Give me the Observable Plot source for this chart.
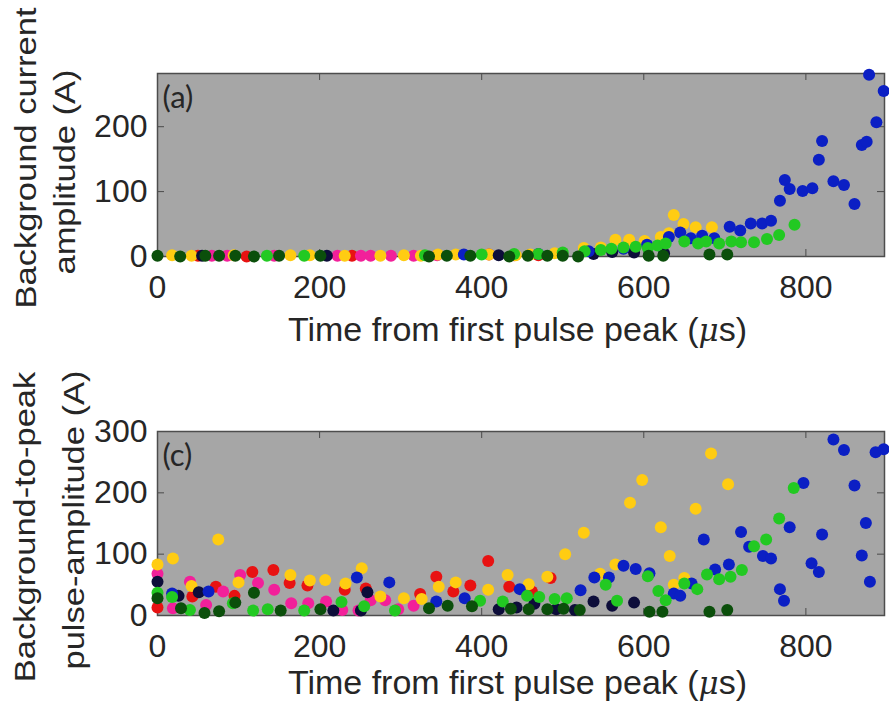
<!DOCTYPE html>
<html>
<head>
<meta charset="utf-8">
<script src="https://cdn.jsdelivr.net/npm/d3@7"></script>
<script src="https://cdn.jsdelivr.net/npm/@observablehq/plot@0.6"></script>
<style>
  html, body { margin: 0; padding: 0; background: #fff; }
  #wrap { position: relative; width: 889px; height: 711px; overflow: hidden; }
  #wrap svg.plotsvg { display: block; }
  #overlay { position: absolute; left: 0; top: 0; pointer-events: none; }
</style>
</head>
<body>
<div id="wrap"></div>
<script>
// ---------- data (time in µs, amplitude in A) ----------
const seriesNames = ["S1", "S2", "S3", "S4", "S5", "S6", "S7"];
const seriesColors = ["#e81212", "#f2209a", "#ffcc12", "#0d0d3a", "#0b1fc4", "#22c922", "#0b4f0b"];
const xTicks = [0, 200, 400, 600, 800];
const yTicksA = [0, 100, 200];
const yTicksC = [0, 100, 200, 300];
const xLabel = "Time from first pulse peak (";
const yLabelA = ["Background current", "amplitude (A)"];
const yLabelC = ["Background-to-peak", "pulse-amplitude (A)"];

// panel (a): background current amplitude  (S1 red, S2 magenta, S3 yellow, S4 navy, S5 blue, S6 green, S7 dark green)
const aRed = [[50,1],[110,0],[240,1],[409,3],[440,2],[470,2]];
const aMagenta = [[67,1],[86,1],[144,1],[222,1],[251,1],[263,1],[288,1],[316,1],[345,2]];
const aYellow = [[18,2],[42,1],[94,2],[164,2],[188,2],[231,1],[275,1],[304,2],[325,1],[346,3],[368,3],[409,3],[442,2],[460,3],[490,5],[526,13],[547,14],[565,26],[582,26],[601,24],[621,30],[631,36],[637,64],[649,50],[664,45],[684,45]];
const aNavy = [[55,1],[209,1],[421,2],[538,4],[561,7],[588,6],[625,5]];
const aBlue = [[378,3],[470,4],[532,8],[575,12],[604,18],[631,30],[645,37],[658,28],[672,32],[687,28],[706,46],[719,40],[732,51],[746,51],[757,55],[768,86],[774,118],[780,104],[796,101],[808,105],[816,149],[820,178],[834,116],[847,110],[860,81],[869,172],[875,177],[878,280],[887,207],[896,255]];
const aGreen = [[135,1],[181,1],[330,2],[400,3],[440,4],[470,4],[500,6],[527,8],[547,10],[560,12],[575,14],[590,15],[605,13],[617,17],[627,20],[650,23],[667,20],[677,23],[693,20],[708,23],[720,22],[736,22],[752,27],[767,33],[786,49]];
const aDarkgreen = [[0,1],[28,0],[59,1],[76,1],[96,1],[119,0],[150,1],[201,1],[335,0],[357,1],[386,1],[434,0],[457,1],[481,1],[500,1],[519,0],[606,1],[624,1],[681,3],[703,3]];

// panel (c): background-to-peak pulse amplitude
const cRed = [[0,13],[43,31],[72,47],[95,32],[117,71],[143,74],[163,53],[185,49],[231,42],[257,44],[324,35],[344,63],[365,39],[386,49],[408,89],[434,47],[462,39],[485,61]];
const cMagenta = [[0,68],[19,12],[40,55],[60,17],[81,39],[102,66],[124,53],[144,42],[165,20],[186,20],[208,23],[228,9],[248,8],[263,25],[281,25],[297,10],[316,16]];
const cYellow = [[0,83],[19,93],[42,48],[75,124],[100,54],[164,66],[188,57],[207,58],[232,52],[252,77],[275,31],[304,28],[326,27],[347,47],[368,54],[408,42],[432,66],[458,51],[481,63],[503,100],[526,135],[546,68],[565,83],[583,184],[598,221],[621,144],[632,97],[637,50],[650,61],[664,174],[683,264],[704,214]];
const cNavy = [[0,55],[26,32],[51,38],[217,8],[251,8],[259,38],[421,10],[443,13],[465,19],[492,10],[515,9],[538,23],[561,16],[588,21]];
const cBlue = [[18,36],[63,39],[246,62],[286,54],[344,23],[379,28],[447,43],[522,41],[539,62],[557,62],[575,81],[590,76],[607,69],[637,36],[645,32],[659,52],[674,124],[688,75],[705,83],[720,136],[730,112],[747,97],[757,93],[768,43],[773,24],[780,144],[797,216],[807,85],[816,71],[820,132],[834,287],[847,270],[860,212],[869,98],[874,151],[879,55],[886,266],[896,271]];
const cGreen = [[0,37],[18,30],[40,9],[93,20],[118,8],[136,10],[181,8],[227,22],[255,15],[293,8],[398,24],[426,23],[456,32],[471,30],[490,27],[505,28],[553,50],[567,24],[605,64],[618,40],[627,25],[650,52],[666,43],[678,67],[693,59],[707,63],[721,74],[736,113],[751,124],[767,158],[785,208]];
const cDarkgreen = [[0,28],[29,12],[58,4],[76,7],[96,21],[119,37],[152,8],[201,10],[335,12],[358,16],[388,15],[436,11],[458,10],[481,10],[501,11],[521,9],[607,6],[623,6],[681,6],[703,9]];

// ---------- build ----------
const toRows = (groups) => groups.flatMap(([name, arr]) => arr.map(([x, y]) => ({series: name, x, y})));
const rowsA = toRows([["S1", aRed], ["S2", aMagenta], ["S3", aYellow], ["S4", aNavy], ["S5", aBlue], ["S6", aGreen], ["S7", aDarkgreen]]);
const rowsC = toRows([["S1", cRed], ["S2", cMagenta], ["S3", cYellow], ["S4", cNavy], ["S5", cBlue], ["S6", cGreen], ["S7", cDarkgreen]]);

const W = 889, ML = 157, MR = 5;
const innerW = W - ML - MR;
const TXT = "#262626";
const FONT = "Liberation Sans, Arial, Helvetica, sans-serif";

function panel({rows, yDomain, yTicks, height, mt, mb, tag}) {
  const innerH = height - mt - mb;
  return Plot.plot({
    width: W, height,
    marginLeft: ML, marginRight: MR, marginTop: mt, marginBottom: mb,
    style: {fontFamily: FONT, color: TXT, background: "transparent", overflow: "visible"},
    x: {domain: [0, 897]},
    y: {domain: yDomain},
    color: {type: "ordinal", domain: seriesNames, range: seriesColors},
    marks: [
      Plot.frame({fill: "#a6a6a6", stroke: null}),
      Plot.tickX(xTicks, {x: d => d, insetTop: innerH - 7, stroke: "#4a4a4a"}),
      Plot.tickX(xTicks, {x: d => d, insetBottom: innerH - 7, stroke: "#4a4a4a"}),
      Plot.tickY(yTicks, {y: d => d, insetRight: innerW - 7, stroke: "#4a4a4a"}),
      Plot.tickY(yTicks, {y: d => d, insetLeft: innerW - 7, stroke: "#4a4a4a"}),
      Plot.frame({stroke: "#4d4d4d", strokeWidth: 1.5}),
      Plot.axisX({ticks: xTicks, tickSize: 0, tickPadding: 19, fontSize: 32, label: null, fill: TXT}),
      Plot.axisY({ticks: yTicks, tickSize: 0, tickPadding: 10, fontSize: 32, label: null, fill: TXT}),
      Plot.dot(rows, {x: "x", y: "y", fill: "series", r: 6, stroke: null}),
      Plot.text([tag], {frameAnchor: "top-left", dx: 5, dy: 12, lineAnchor: "top", fontSize: 31, fontFamily: "Lato, 'Open Sans', sans-serif", fill: TXT})
    ]
  });
}

const wrap = document.getElementById("wrap");
const pA = panel({rows: rowsA, yDomain: [0, 282], yTicks: yTicksA, height: 345, mt: 73, mb: 89, tag: "(a)"});
const pC = panel({rows: rowsC, yDomain: [0, 300], yTicks: yTicksC, height: 366, mt: 86, mb: 96, tag: "(c)"});
pA.classList.add("plotsvg"); pC.classList.add("plotsvg");
wrap.appendChild(pA);
wrap.appendChild(pC);

// ---------- labels overlay ----------
const ov = d3.select(wrap).append("svg").attr("id", "overlay").attr("width", W).attr("height", 711)
  .style("font-family", FONT).style("fill", TXT);

function xlab(y) {
  const t = ov.append("text").attr("x", ML + innerW / 2 - 3).attr("y", y)
    .attr("text-anchor", "middle").attr("font-size", 34);
  t.append("tspan").text(xLabel);
  t.append("tspan").attr("font-style", "italic").attr("font-family", "DejaVu Serif, serif").attr("font-size", 31).text("μ");
  t.append("tspan").text("s)");
}
xlab(341);
xlab(694);

function ylab(lines, xs, cys) {
  lines.forEach((s, i) => {
    ov.append("text")
      .attr("transform", `translate(${xs[i]},${cys[i]}) rotate(-90) scale(1.15,1)`)
      .attr("text-anchor", "middle").attr("font-size", 30).text(s);
  });
}
ylab(yLabelA, [36, 75], [158, 172]);
ylab(yLabelC, [35, 84], [527, 520]);
</script>
</body>
</html>
